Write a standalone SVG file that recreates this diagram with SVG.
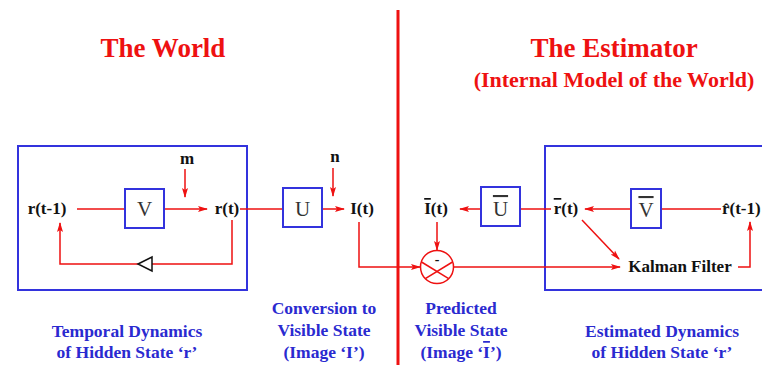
<svg xmlns="http://www.w3.org/2000/svg" width="762" height="365" viewBox="0 0 762 365">
<defs>
<style>
text{font-family:"Liberation Serif","Times New Roman",serif}
.title{font-weight:bold;fill:#ee1111;text-anchor:middle}
.cap{font-weight:bold;font-size:17.5px;fill:#2a2ad0;text-anchor:middle}
.lbl{font-weight:bold;font-size:17px;fill:#111;text-anchor:middle}
.op{font-size:21px;fill:#333;text-anchor:middle}
.box{fill:#fff;stroke:#3333dd;stroke-width:2}
.wire{fill:none;stroke:#ee1111;stroke-width:1.5}
.ov{text-decoration:overline}
</style>
<marker id="ah" viewBox="0 0 10 8" refX="9" refY="4" markerWidth="10" markerHeight="8" markerUnits="userSpaceOnUse" orient="auto">
<path d="M0,1 L10,4 L0,7 L2,4 z" fill="#ee1111"/>
</marker>
</defs>
<rect width="762" height="365" fill="#fff"/>

<text class="title" x="163" y="57" font-size="27">The World</text>
<text class="title" x="614" y="57" font-size="27">The Estimator</text>
<text class="title" x="614" y="87" font-size="22">(Internal Model of the World)</text>

<line x1="398" y1="10" x2="398" y2="365" stroke="#ee1111" stroke-width="3"/>

<g id="world-box"><rect class="box" x="18" y="146" width="229" height="144"/></g>
<g id="estimator-box"><rect class="box" x="545" y="146" width="240" height="144"/></g>

<g id="connectors">
<line class="wire" x1="77" y1="209" x2="125" y2="209"/>
<line class="wire" x1="164" y1="209" x2="207" y2="209" marker-end="url(#ah)"/>
<line class="wire" x1="185" y1="169" x2="185" y2="197" marker-end="url(#ah)"/>
<path class="wire" d="M232,220 V264 H60 V223" marker-end="url(#ah)"/>
<line class="wire" x1="240" y1="209" x2="283" y2="209"/>
<line class="wire" x1="322" y1="209" x2="344" y2="209" marker-end="url(#ah)"/>
<line class="wire" x1="333" y1="168" x2="333" y2="196" marker-end="url(#ah)"/>
<path class="wire" d="M359,222 V267 H420" marker-end="url(#ah)"/>
<line class="wire" x1="437" y1="222" x2="437" y2="250" marker-end="url(#ah)"/>
<line class="wire" x1="481" y1="209" x2="460" y2="209" marker-end="url(#ah)"/>
<line class="wire" x1="551" y1="209" x2="520" y2="209"/>
<line class="wire" x1="631" y1="209" x2="585" y2="209" marker-end="url(#ah)"/>
<line class="wire" x1="661" y1="209" x2="721" y2="209"/>
<line class="wire" x1="453" y1="267" x2="620" y2="267" marker-end="url(#ah)"/>
<line class="wire" x1="582" y1="220" x2="619" y2="259" marker-end="url(#ah)"/>
<path class="wire" d="M738,267 H750 V222" marker-end="url(#ah)"/>
<polygon points="138,264 152,257 152,271" fill="#fff" stroke="#111" stroke-width="1.5"/>
</g>

<g id="r-prev"><text class="lbl" x="47" y="214">r(t-1)</text></g>
<g id="V"><rect class="box" x="125" y="189" width="39" height="39"/><text class="op" x="144.5" y="216">V</text></g>
<g id="m"><text class="lbl" x="187" y="164">m</text></g>
<g id="r-t"><text class="lbl" x="227" y="214">r(t)</text></g>
<g id="U"><rect class="box" x="283" y="188" width="39" height="39"/><text class="op" x="302.5" y="216">U</text></g>
<g id="n"><text class="lbl" x="335" y="162">n</text></g>
<g id="I-t"><text class="lbl" x="362" y="214">I(t)</text></g>

<g id="Ibar-t"><text class="lbl" x="436" y="214"><tspan class="ov">I</tspan>(t)</text></g>
<g id="Ubar"><rect class="box" x="481" y="187" width="39" height="39"/><text class="op" x="500.5" y="216"><tspan class="ov">U</tspan></text></g>
<g id="rbar-t"><text class="lbl" x="566" y="214"><tspan class="ov">r</tspan>(t)</text></g>
<g id="Vbar"><rect class="box" x="631" y="189" width="30" height="39"/><text class="op" x="646" y="217"><tspan class="ov">V</tspan></text></g>
<g id="rhat-prev"><text class="lbl" x="722" y="214" style="text-anchor:start">r̂(t-1)</text></g>
<g id="comparator">
<circle cx="437" cy="267" r="16.5" fill="#fff" stroke="#ee1111" stroke-width="1.5"/>
<line x1="421.5" y1="262" x2="448.7" y2="278.7" stroke="#ee1111" stroke-width="1.5"/>
<line x1="452.5" y1="262" x2="425.3" y2="278.7" stroke="#ee1111" stroke-width="1.5"/>
<text class="lbl" x="437" y="264" style="font-size:14px">-</text>
</g>
<g id="kalman"><text class="lbl" x="680" y="272">Kalman Filter</text></g>

<g id="captions">
<text class="cap" x="127" y="337">Temporal Dynamics</text>
<text class="cap" x="127" y="358">of Hidden State ‘r’</text>
<text class="cap" x="324" y="314">Conversion to</text>
<text class="cap" x="324" y="336">Visible State</text>
<text class="cap" x="324" y="358">(Image ‘I’)</text>
<text class="cap" x="461" y="314">Predicted</text>
<text class="cap" x="461" y="336">Visible State</text>
<text class="cap" x="461" y="358">(Image ‘<tspan class="ov">I</tspan>’)</text>
<text class="cap" x="662" y="337">Estimated Dynamics</text>
<text class="cap" x="662" y="358">of Hidden State ‘r’</text>
</g>
</svg>
